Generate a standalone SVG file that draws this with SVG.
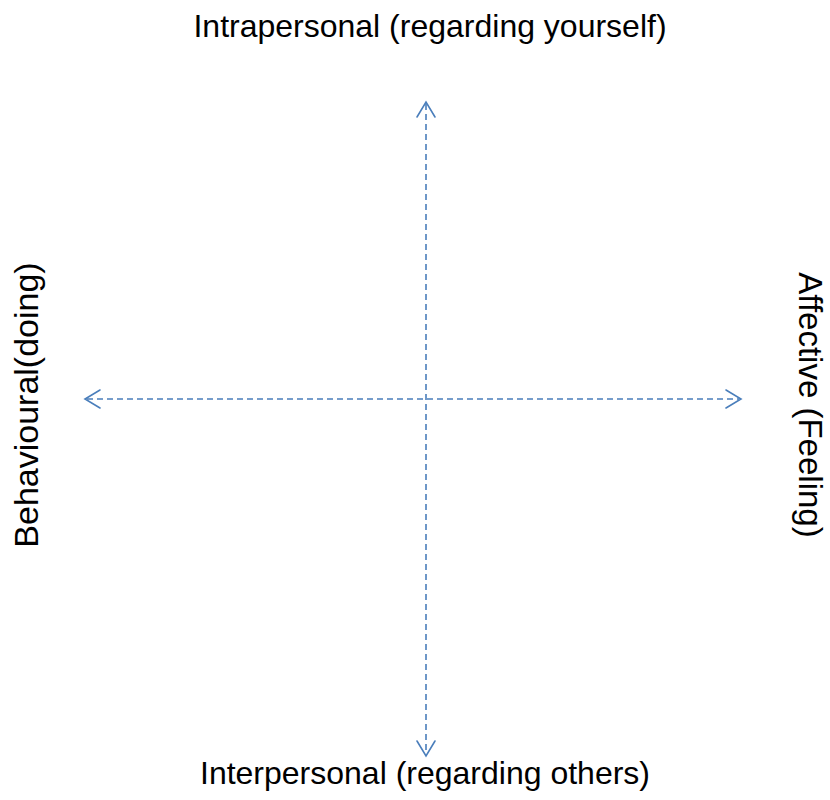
<svg xmlns="http://www.w3.org/2000/svg" width="830" height="800" viewBox="0 0 830 800">
  <style>
    .axis { stroke: #4a7ebb; stroke-width: 1.6; stroke-dasharray: 6 4; fill: none; }
    .head { stroke: #4a7ebb; stroke-width: 1.6; fill: none; stroke-linecap: round; stroke-linejoin: miter; }
    .label { font-family: "Liberation Sans", Arial, sans-serif; font-size: 32px; fill: #000; text-anchor: middle; }
    .vlabel { font-size: 34px; }
    .rlabel { font-size: 33px; }
  </style>
  <rect width="830" height="800" fill="#fff"/>
  <g id="connectors">
    <line class="axis" x1="426" y1="104" x2="426" y2="754"/>
    <line class="axis" x1="87" y1="399" x2="739" y2="399"/>
    <polyline class="head" points="417,117 426,102 435,117"/>
    <polyline class="head" points="417,741 426,756 435,741"/>
    <polyline class="head" points="100,390 85,399 100,408"/>
    <polyline class="head" points="726,390 741,399 726,408"/>
  </g>
  <g id="top">
    <text class="label" x="430" y="37">Intrapersonal (regarding yourself)</text>
  </g>
  <g id="bottom">
    <text class="label" x="425" y="784">Interpersonal (regarding others)</text>
  </g>
  <g id="left">
    <text class="label vlabel" transform="translate(38,405) rotate(-90)">Behavioural(doing)</text>
  </g>
  <g id="right">
    <text class="label rlabel" transform="translate(799,405) rotate(90)">Affective (Feeling)</text>
  </g>
</svg>
